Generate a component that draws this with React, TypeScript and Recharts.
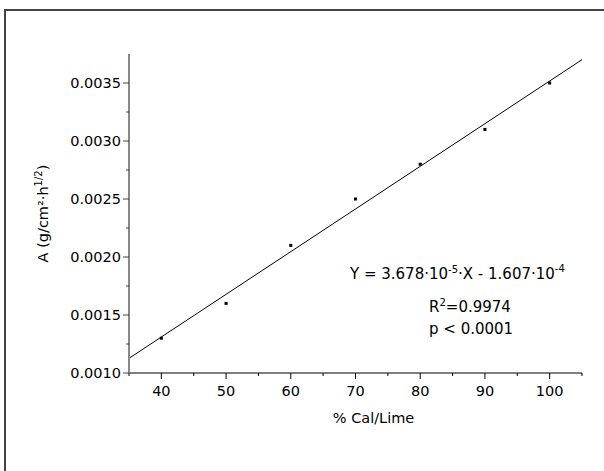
import React from "react";
import { ComposedChart, Scatter, Line, XAxis, YAxis } from "recharts";

const calLime = [40, 50, 60, 70, 80, 90, 100];
const absorption = [0.0013, 0.0016, 0.0021, 0.0025, 0.0028, 0.0031, 0.0035];

const xTicks = [35, 40, 45, 50, 55, 60, 65, 70, 75, 80, 85, 90, 95, 100, 105];
const xLabels = [40, 50, 60, 70, 80, 90, 100];
const yTicks = [0.001, 0.00125, 0.0015, 0.00175, 0.002, 0.00225, 0.0025, 0.00275, 0.003, 0.00325, 0.0035];
const yLabels = [0.001, 0.0015, 0.002, 0.0025, 0.003, 0.0035];

// fit printed on the chart: Y = 3.678e-5 * X - 1.607e-4
const slope = 3.678e-5;
const intercept = -1.607e-4;
const fitX = [35, 105];

const points = calLime.map((x, i) => ({ x, y: absorption[i] }));
const fitLine = fitX.map((x) => ({ x, y: slope * x + intercept }));

const FONT = "'DejaVu Sans', Verdana, sans-serif";

const XTick = (props: any) => {
	const { x, y, payload } = props;
	const major = xLabels.includes(payload.value);
	return (
		<g>
			<line x1={x} y1={y} x2={x} y2={y + (major ? 6 : 3)} stroke="#000" strokeWidth={1} />
			{major && (
				<text x={x} y={y + 23} textAnchor="middle" fontSize={14.5} fontFamily={FONT} fill="#000">
					{payload.value}
				</text>
			)}
		</g>
	);
};

const YTick = (props: any) => {
	const { x, y, payload } = props;
	const major = yLabels.some((v) => Math.abs(v - payload.value) < 1e-9);
	return (
		<g>
			<line x1={x - (major ? 6 : 3)} y1={y} x2={x} y2={y} stroke="#444" strokeWidth={1} />
			{major && (
				<text x={x - 8} y={y + 5} textAnchor="end" fontSize={14.5} fontFamily={FONT} fill="#000">
					{payload.value.toFixed(4)}
				</text>
			)}
		</g>
	);
};

const Square = (props: any) => {
	const { cx, cy } = props;
	return <rect x={cx - 1.5} y={cy - 1.5} width={3} height={3} fill="#000" />;
};

export default function App() {
	return (
		<div
			style={{
				position: "absolute",
				left: 0,
				top: 0,
				width: 604,
				height: 471,
				background: "#fff",
				overflow: "hidden",
			}}
		>
			<div
				style={{
					position: "absolute",
					left: 4,
					top: 9,
					width: 620,
					height: 480,
					borderTop: "2px solid #444",
					borderLeft: "2px solid #444",
				}}
			/>
			<ComposedChart
				width={604}
				height={471}
				margin={{ top: 54, right: 22, bottom: 38, left: 0 }}
				style={{ position: "absolute", left: 0, top: 0 }}
			>
				<XAxis
					type="number"
					dataKey="x"
					domain={[35, 105]}
					ticks={xTicks}
					interval={0}
					allowDataOverflow
					tickLine={false}
					tickSize={0}
					tickMargin={0}
					tick={<XTick />}
					height={60}
					stroke="#000"
					label={{
						value: "% Cal/Lime",
						position: "insideTop",
						offset: 40,
						dx: 18,
						fontSize: 14.5,
						fontFamily: FONT,
						fill: "#000",
					}}
				/>
				<YAxis
					type="number"
					dataKey="y"
					domain={[0.001, 0.00375]}
					ticks={yTicks}
					interval={0}
					allowDataOverflow
					tickLine={false}
					tickSize={0}
					tickMargin={0}
					tick={<YTick />}
					width={129}
					stroke="#888"
					strokeWidth={2}
					label={(p: any) => {
						const vb = p.viewBox;
						const cy = vb.y + vb.height / 2;
						return (
							<text
								x={43}
								y={cy}
								transform={`rotate(-90, 43, ${cy})`}
								textAnchor="middle"
								dominantBaseline="central"
								fontSize={14.5}
								fontFamily={FONT}
								fill="#000"
							>
								A (g/cm²·h
								<tspan fontSize={10} dy={-5}>1/2</tspan>
								<tspan dy={5}>)</tspan>
							</text>
						);
					}}
				/>
				<Line
					data={fitLine}
					dataKey="y"
					stroke="#000"
					strokeWidth={1}
					dot={false}
					activeDot={false}
					isAnimationActive={false}
				/>
				<Scatter data={points} dataKey="y" shape={<Square />} isAnimationActive={false} />
			</ComposedChart>
			<svg
				width={604}
				height={471}
				style={{ position: "absolute", left: 0, top: 0, pointerEvents: "none" }}
			>
				<text x={350} y={279} fontSize={15} fontFamily={FONT} fill="#000">
					Y = 3.678·10
					<tspan fontSize={10} dy={-6}>-5</tspan>
					<tspan dy={6}>·X - 1.607·10</tspan>
					<tspan fontSize={10} dy={-7}>-4</tspan>
				</text>
				<text x={429} y={312} fontSize={15} fontFamily={FONT} fill="#000">
					R
					<tspan fontSize={10} dy={-6}>2</tspan>
					<tspan dy={6}>=0.9974</tspan>
				</text>
				<text x={429} y={334} fontSize={15} fontFamily={FONT} fill="#000">
					p &lt; 0.0001
				</text>
			</svg>
		</div>
	);
}
